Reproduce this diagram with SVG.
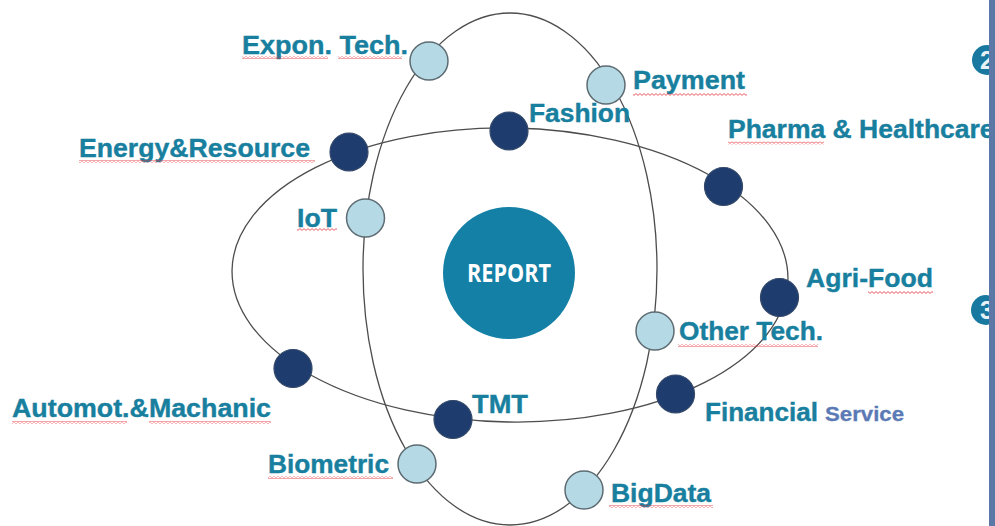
<svg xmlns="http://www.w3.org/2000/svg" width="995" height="526" viewBox="0 0 995 526">
  <defs>
    <pattern id="squiggle" width="4" height="3" patternUnits="userSpaceOnUse">
      <path d="M0,0.6 L2,2.4 L4,0.6" fill="none" stroke="#e2343c" stroke-width="0.8"/>
    </pattern>
  </defs>
  <style>
    .orbit { fill: none; stroke: #4d4d4d; stroke-width: 1.3; }
    .light { fill: #b5d9e5; stroke: #5d6b72; stroke-width: 1.5; }
    .dark { fill: #1e3d6e; stroke: #34496a; stroke-width: 1.2; }
    .lbl { font-family: "Liberation Sans", Arial, sans-serif; font-weight: bold; font-size: 26.5px; fill: #187f9f; stroke: #187f9f; stroke-width: 0.4; }
    .svc { font-family: "Liberation Sans", Arial, sans-serif; font-weight: bold; font-size: 21px; fill: #5b7ab5; stroke: #5b7ab5; stroke-width: 0.3; }
    .sq { fill: url(#squiggle); }
    .num { fill: #1878a0; }
    .digit { font-family: "Liberation Sans", Arial, sans-serif; font-weight: bold; font-size: 25px; fill: #e8f2f6; text-anchor: middle; }
  </style>
  <rect x="0" y="0" width="995" height="526" fill="#ffffff"/>

  <g id="connectors">
    <ellipse class="orbit" cx="510" cy="275" rx="278" ry="147" transform="rotate(1 510 275)"/>
    <ellipse class="orbit" cx="510" cy="269" rx="147" ry="256"/>
  </g>

  <g id="report">
    <circle cx="509" cy="273" r="66" fill="#1580a6"/>
    <text x="509" y="282" text-anchor="middle" font-family="'Open Sans', sans-serif" font-weight="bold" font-size="25" fill="#ffffff" textLength="84" lengthAdjust="spacingAndGlyphs">REPORT</text>
  </g>

  <g id="node-expon">
    <circle class="light" cx="429" cy="61" r="19"/>
    <text class="lbl" x="242" y="54" textLength="166" lengthAdjust="spacingAndGlyphs">Expon. Tech.</text>
    <rect class="sq" x="242" y="56" width="86" height="3"/>
    <rect class="sq" x="338" y="56" width="64" height="3"/>
  </g>
  <g id="node-payment">
    <circle class="light" cx="606" cy="85" r="19"/>
    <text class="lbl" x="633" y="89" textLength="112" lengthAdjust="spacingAndGlyphs">Payment</text>
    <rect class="sq" x="633" y="93" width="114" height="3"/>
  </g>
  <g id="node-fashion">
    <circle class="dark" cx="509" cy="131" r="19"/>
    <text class="lbl" x="529" y="122" textLength="101" lengthAdjust="spacingAndGlyphs">Fashion</text>
  </g>
  <g id="node-energy">
    <circle class="dark" cx="349" cy="152" r="19"/>
    <text class="lbl" x="79" y="157" textLength="231" lengthAdjust="spacingAndGlyphs">Energy&amp;Resource</text>
    <rect class="sq" x="79" y="160" width="236" height="3"/>
  </g>
  <g id="node-pharma">
    <circle class="dark" cx="723.5" cy="186.5" r="19"/>
    <text class="lbl" x="728" y="137.5">Pharma &amp; Healthcare</text>
    <rect class="sq" x="728" y="141.5" width="96" height="3"/>
  </g>
  <g id="node-iot">
    <circle class="light" cx="365.5" cy="218" r="19"/>
    <text class="lbl" x="297" y="227" textLength="40" lengthAdjust="spacingAndGlyphs">IoT</text>
    <rect class="sq" x="297" y="228" width="40" height="3"/>
  </g>
  <g id="node-agrifood">
    <circle class="dark" cx="779.5" cy="297.5" r="19"/>
    <text class="lbl" x="806" y="287" textLength="127" lengthAdjust="spacingAndGlyphs">Agri-Food</text>
    <rect class="sq" x="868" y="291" width="65" height="3"/>
  </g>
  <g id="node-othertech">
    <circle class="light" cx="655" cy="331" r="19"/>
    <text class="lbl" x="679" y="340" textLength="144" lengthAdjust="spacingAndGlyphs">Other Tech.</text>
    <rect class="sq" x="678" y="344" width="140" height="3"/>
  </g>
  <g id="node-automot">
    <circle class="dark" cx="293" cy="368.5" r="19"/>
    <text class="lbl" x="12" y="417" textLength="259" lengthAdjust="spacingAndGlyphs">Automot.&amp;Machanic</text>
    <rect class="sq" x="12" y="421" width="115" height="3"/>
    <rect class="sq" x="149" y="421" width="122" height="3"/>
  </g>
  <g id="node-financial">
    <circle class="dark" cx="675.5" cy="394" r="19"/>
    <text class="lbl" x="705" y="421" textLength="113" lengthAdjust="spacingAndGlyphs">Financial</text>
    <text class="svc" x="825" y="421" textLength="79" lengthAdjust="spacingAndGlyphs">Service</text>
  </g>
  <g id="node-tmt">
    <circle class="dark" cx="453" cy="419.5" r="19"/>
    <text class="lbl" x="472" y="413" textLength="56" lengthAdjust="spacingAndGlyphs">TMT</text>
  </g>
  <g id="node-biometric">
    <circle class="light" cx="417" cy="464" r="19"/>
    <text class="lbl" x="268" y="473" textLength="121" lengthAdjust="spacingAndGlyphs">Biometric</text>
    <rect class="sq" x="268" y="476" width="125" height="3"/>
  </g>
  <g id="node-bigdata">
    <circle class="light" cx="584" cy="490" r="19"/>
    <text class="lbl" x="611" y="502" textLength="100" lengthAdjust="spacingAndGlyphs">BigData</text>
    <rect class="sq" x="609" y="505" width="104" height="3"/>
  </g>

  <g id="step-2">
    <circle class="num" cx="987" cy="60" r="15"/>
    <text class="digit" x="987" y="69">2</text>
  </g>
  <g id="step-3">
    <circle class="num" cx="986" cy="310" r="15"/>
    <text class="digit" x="987" y="319">3</text>
  </g>
  <rect id="side-bar" x="989" y="0" width="6" height="526" fill="#5b78a6"/>
</svg>
